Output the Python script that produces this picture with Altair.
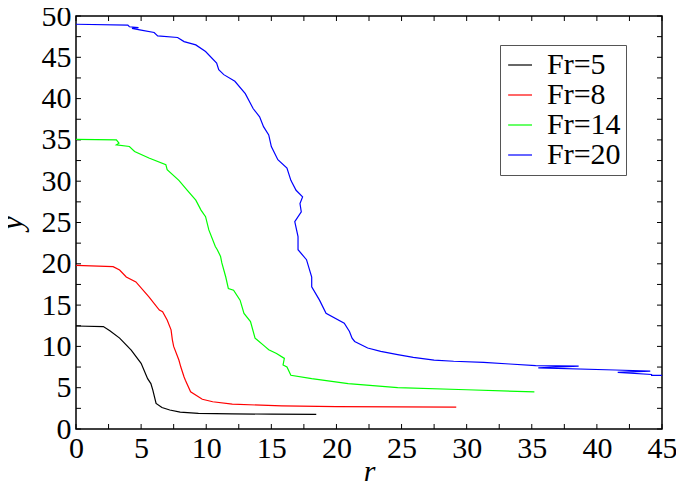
import altair as alt
import pandas as pd

# ---- data ----
r5 = [0, 2.1, 2.6, 3.35, 4.24, 5.0, 5.5, 5.75, 5.9, 6.15, 6.6, 7.2, 8.0, 9.4, 12.0, 15.0, 18.45]
y5 = [12.47, 12.4, 11.9, 11.0, 9.56, 7.95, 6.1, 5.5, 4.7, 3.1, 2.6, 2.3, 2.05, 1.9, 1.83, 1.8, 1.78]

r8 = [0, 2.85, 3.35, 3.86, 4.6, 5.6, 6.4, 6.65, 7.0, 7.3, 7.4, 7.5, 7.9, 8.05, 8.3, 8.4, 8.8, 9.7,
      10.5, 12.0, 15.8, 20.0, 24.7, 29.2]
y8 = [19.8, 19.65, 19.25, 18.4, 17.8, 16.0, 14.4, 14.2, 13.2, 12.0, 10.8, 10.0, 8.35, 7.5, 6.3, 5.9,
      4.5, 3.6, 3.3, 3.0, 2.8, 2.72, 2.68, 2.65]

r14 = [0, 3.1, 3.3, 3.1, 4.1, 4.5, 5.6, 6.9, 7.0, 7.9, 8.55, 9.2, 9.6, 9.95, 10.2, 10.7, 10.85, 11.1,
       11.2, 11.5, 11.7, 12.1, 12.6, 12.9, 13.4, 13.75, 13.9, 14.5, 14.8, 15.4, 16.0, 15.9, 16.2, 16.5,
       18.1, 20.9, 24.7, 30.0, 35.2]
y14 = [35.07, 35.0, 34.6, 34.4, 34.2, 33.6, 32.8, 32.0, 31.4, 30.1, 28.9, 27.7, 26.5, 25.7, 24.1, 22.1,
       21.7, 20.9, 20.1, 18.4, 17.0, 16.8, 15.6, 14.0, 13.0, 11.0, 10.8, 10.0, 9.6, 9.15, 8.55, 7.75,
       7.5, 6.5, 6.1, 5.5, 5.0, 4.75, 4.5]

r20 = [0, 3.98, 4.1, 4.8, 4.3, 5.0, 6.0, 6.27, 7.8, 8.3, 9.2, 9.95, 10.8, 10.96, 11.35, 12.2, 13.0,
       13.6, 14.1, 14.4, 14.8, 15.0, 15.5, 16.2, 16.5, 16.9, 17.4, 17.2, 17.3, 16.8, 17.05, 17.05, 17.7,
       18.1, 18.1, 18.7, 19.2, 20.6, 21.0, 21.2, 21.4, 22.4, 23.4, 24.7, 25.9, 27.5, 29.0, 31.3, 33.3,
       35.3, 38.6, 35.5, 41.4, 44.1, 41.6, 44.2, 44.2, 45.0]
y20 = [49.0, 48.9, 48.7, 48.6, 48.5, 48.3, 48.0, 47.6, 47.4, 46.9, 46.5, 45.7, 44.3, 43.5, 42.9, 42.1,
       40.6, 38.8, 37.8, 36.6, 35.6, 34.2, 32.6, 31.6, 30.1, 28.9, 28.1, 27.3, 26.3, 25.1, 23.3, 21.7,
       20.5, 18.4, 17.2, 15.6, 14.0, 12.8, 11.8, 11.0, 10.6, 9.8, 9.4, 9.0, 8.67, 8.35, 8.2, 8.07, 7.87,
       7.67, 7.6, 7.4, 7.14, 7.0, 6.86, 6.6, 6.5, 6.5]

series_names = ["Fr=5", "Fr=8", "Fr=14", "Fr=20"]
series_colors = ["#000000", "#ff0000", "#00ff00", "#0000ff"]

x_ticks = [0, 5, 10, 15, 20, 25, 30, 35, 40, 45]
y_ticks = [0, 5, 10, 15, 20, 25, 30, 35, 40, 45, 50]
x_minor = [0, 2.5, 5, 7.5, 10, 12.5, 15, 17.5, 20, 22.5, 25, 27.5, 30, 32.5, 35, 37.5, 40, 42.5, 45]
y_minor = [0, 2.5, 5, 7.5, 10, 12.5, 15, 17.5, 20, 22.5, 25, 27.5, 30, 32.5, 35, 37.5, 40, 42.5, 45,
           47.5, 50]

rows = []
for name, rs, ys in zip(series_names, [r5, r8, r14, r20], [y5, y8, y14, y20]):
    for i, (a, b) in enumerate(zip(rs, ys)):
        rows.append({"r": a, "y": b, "Fr": name, "idx": i})
df = pd.DataFrame(rows)

W, H = 586, 413
FONT = "Liberation Serif, Times New Roman, Times, serif"
TL = 5

xscale = alt.Scale(domain=[0, 45], nice=False, zero=False)
yscale = alt.Scale(domain=[0, 50], nice=False, zero=False)

xaxis = alt.Axis(values=x_ticks, ticks=False, tickSize=0, domain=False, grid=False, labelFlush=False,
                 labelFont=FONT, labelFontSize=30, labelColor="black", labelPadding=4,
                 title="r", titleFont=FONT, titleFontSize=30, titleFontStyle="italic",
                 titleFontWeight="normal", titleColor="black", titlePadding=-7)
yaxis = alt.Axis(values=y_ticks, ticks=False, tickSize=0, domain=False, grid=False,
                 labelFont=FONT, labelFontSize=30, labelColor="black", labelPadding=5,
                 title="y", titleFont=FONT, titleFontSize=31, titleFontStyle="italic",
                 titleFontWeight="normal", titleColor="black", titlePadding=13)

lines = alt.Chart(df).mark_line(strokeWidth=1.2, interpolate="linear").encode(
    x=alt.X("r:Q", scale=xscale, axis=xaxis),
    y=alt.Y("y:Q", scale=yscale, axis=yaxis),
    color=alt.Color("Fr:N", scale=alt.Scale(domain=series_names, range=series_colors),
                    legend=alt.Legend(orient="none", legendX=424, legendY=29, title=None,
                                      symbolType="stroke", symbolSize=576, symbolStrokeWidth=1.2,
                                      labelFont=FONT, labelFontSize=30, labelColor="black",
                                      labelOffset=12, padding=5, rowPadding=-3,
                                      strokeColor="#555555", fillColor="white")),
    order=alt.Order("idx:Q"),
)

xt = pd.DataFrame({"r": x_minor})
yt = pd.DataFrame({"y": y_minor})

bottom_ticks = alt.Chart(xt).mark_rule(color="black", strokeWidth=1).encode(
    x=alt.X("r:Q", scale=xscale, axis=xaxis), y=alt.value(H), y2=alt.value(H - TL))
top_ticks = alt.Chart(xt).mark_rule(color="black", strokeWidth=1).encode(
    x=alt.X("r:Q", scale=xscale, axis=xaxis), y=alt.value(0), y2=alt.value(TL))
left_ticks = alt.Chart(yt).mark_rule(color="black", strokeWidth=1).encode(
    y=alt.Y("y:Q", scale=yscale, axis=yaxis), x=alt.value(0), x2=alt.value(TL))
right_ticks = alt.Chart(yt).mark_rule(color="black", strokeWidth=1).encode(
    y=alt.Y("y:Q", scale=yscale, axis=yaxis), x=alt.value(W), x2=alt.value(W - TL))

chart = alt.layer(bottom_ticks, top_ticks, left_ticks, right_ticks, lines).properties(
    width=W, height=H,
    autosize=alt.AutoSizeParams(type="none"),
    padding={"left": 68, "top": 8, "right": 14, "bottom": 55},
    background="white",
).configure_view(stroke="black", strokeWidth=1.5)

chart.save("out.html", embed_options={"renderer": "svg", "actions": False})
